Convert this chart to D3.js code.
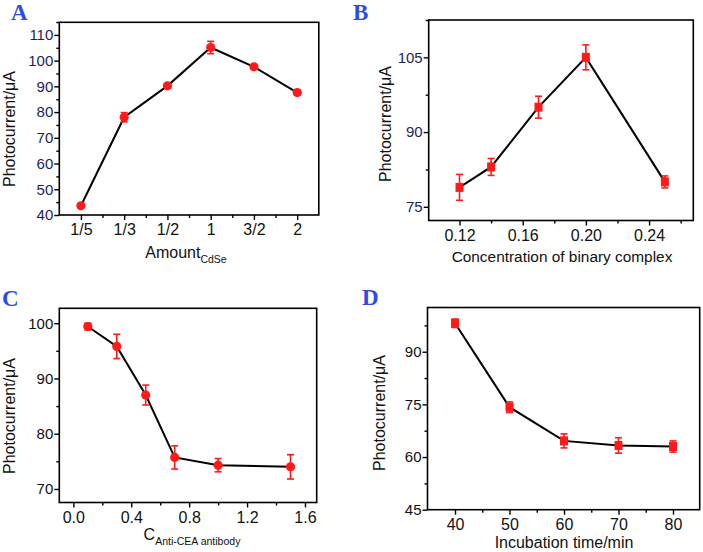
<!DOCTYPE html>
<html><head><meta charset="utf-8">
<script src="https://cdn.jsdelivr.net/npm/d3@7"></script>
<style>
body{margin:0;background:#fff;}
svg{display:block;font-family:"Liberation Sans",Arial,sans-serif;}
</style></head>
<body><svg id="c" width="703" height="552"></svg>
<script>
// Panel A
const aCats = ["1/5","1/3","1/2","1","3/2","2"];
const aVals = [43.6, 78.0, 90.2, 105.1, 97.6, 87.6];
const aErr  = [0.6, 1.8, 0.7, 2.4, 0.8, 0.9];
const aYTicks = [40,50,60,70,80,90,100,110];
// Panel B
const bX = [0.12, 0.14, 0.17, 0.20, 0.25];
const bVals = [78.9, 83.0, 95.0, 105.0, 80.0];
const bErr = [2.6, 1.7, 2.2, 2.5, 1.2];
const bXTicks = [0.12, 0.16, 0.20, 0.24];
const bYTicks = [75, 90, 105];
// Panel C
const cX = [0.1, 0.3, 0.5, 0.7, 1.0, 1.5];
const cVals = [99.4, 95.8, 87.0, 75.7, 74.3, 74.0];
const cErr = [0.6, 2.2, 1.8, 2.1, 1.2, 2.2];
const cXTicks = [0.0, 0.4, 0.8, 1.2, 1.6];
const cYTicks = [70, 80, 90, 100];
// Panel D
const dX = [40, 50, 60, 70, 80];
const dVals = [98.1, 74.2, 64.6, 63.3, 63.0];
const dErr = [1.2, 1.5, 2.0, 2.2, 1.6];
const dXTicks = [40, 50, 60, 70, 80];
const dYTicks = [45, 60, 75, 90];

const svg = d3.select("#c");
const RED = "#ff1a1a";

function panel(o){
  const g = svg.append("g");
  const x = o.x, y = o.y;
  const [x0,x1] = x.range(), [y1,y0] = y.range();
  // minor ticks
  g.append("g").attr("transform",`translate(0,${y1})`)
    .call(d3.axisBottom(x).tickValues(o.xMinor).tickSize(3).tickFormat(""))
    .call(a=>a.select(".domain").remove());
  g.append("g").attr("transform",`translate(${x0},0)`)
    .call(d3.axisLeft(y).tickValues(o.yMinor).tickSize(3).tickFormat(""))
    .call(a=>a.select(".domain").remove());
  // major
  const xa = g.append("g").attr("transform",`translate(0,${y1})`)
    .call(d3.axisBottom(x).tickValues(o.xTicks).tickSize(5).tickPadding(4).tickFormat(o.xFmt));
  xa.select(".domain").remove();
  xa.selectAll("text").attr("font-size",16).attr("fill","#111").attr("font-family","Liberation Sans, Arial");
  const ya = g.append("g").attr("transform",`translate(${x0},0)`)
    .call(d3.axisLeft(y).tickValues(o.yTicks).tickSize(5).tickPadding(1).tickFormat(d3.format("d")));
  ya.select(".domain").remove();
  ya.selectAll("text").attr("font-size",15).attr("fill",o.yColor).attr("font-family","Liberation Sans, Arial");
  g.selectAll(".tick line").attr("stroke","#000").attr("stroke-width",1.4);
  // frame
  g.append("rect").attr("x",x0).attr("y",y0).attr("width",x1-x0).attr("height",y1-y0)
    .attr("fill","none").attr("stroke","#000").attr("stroke-width",1.6);
  // line
  const pts = o.xs.map((v,i)=>[x(v), y(o.vals[i]), y(o.vals[i]-o.err[i]), y(o.vals[i]+o.err[i])]);
  g.append("path").attr("d",d3.line()(pts.map(p=>[p[0],p[1]])))
    .attr("fill","none").attr("stroke","#000").attr("stroke-width",2);
  // error bars
  const eb = g.append("g").attr("stroke",RED).attr("stroke-width",1.6);
  pts.forEach(p=>{
    eb.append("line").attr("x1",p[0]).attr("x2",p[0]).attr("y1",p[2]).attr("y2",p[3]);
    eb.append("line").attr("x1",p[0]-3.5).attr("x2",p[0]+3.5).attr("y1",p[2]).attr("y2",p[2]);
    eb.append("line").attr("x1",p[0]-3.5).attr("x2",p[0]+3.5).attr("y1",p[3]).attr("y2",p[3]);
  });
  // markers
  pts.forEach(p=>{
    if(o.shape==="circle") g.append("circle").attr("cx",p[0]).attr("cy",p[1]).attr("r",4.6).attr("fill",RED);
    else g.append("rect").attr("x",p[0]-4).attr("y",p[1]-4.5).attr("width",8).attr("height",9).attr("fill",RED);
  });
  // y title
  svg.append("text").attr("transform",`translate(${o.ytx},${o.yty}) rotate(-90)`)
    .attr("text-anchor","middle").attr("font-size",16).attr("fill","#111")
    .text("Photocurrent/μA");
  // x title
  const t = svg.append("text").attr("x",o.xtx).attr("y",o.xty).attr("text-anchor","middle")
    .attr("font-size",o.xtSize || 16).attr("fill","#111");
  t.append("tspan").text(o.xTitle);
  if(o.xSub) t.append("tspan").attr("font-size",10.5).attr("dy",5).text(o.xSub);
  // panel letter
  svg.append("text").attr("x",o.lx).attr("y",o.ly).attr("font-family","Liberation Serif, Times New Roman, serif")
    .attr("font-weight","bold").attr("font-size",23).attr("fill","#2f4be6").text(o.letter);
}

// A
const axIdx = aCats.map((c,i)=>i);
panel({
  x: d3.scaleLinear().domain([-0.5,5.5]).range([59.3,318.8]),
  y: d3.scaleLinear().domain([40,114.9]).range([215,22.3]),
  xs: axIdx, vals: aVals, err: aErr,
  xTicks: axIdx, xMinor: axIdx.slice(0,-1).map(i=>i+0.5), xFmt: i=>aCats[i],
  yTicks: aYTicks, yMinor: aYTicks.map(v=>v+5), yColor:"#1a1f5e",
  shape:"circle", ytx:15, yty:129, xtx:186, xty:258, xTitle:"Amount", xSub:"CdSe",
  letter:"A", lx:11, ly:20
});
// B
panel({
  x: d3.scaleLinear().domain([0.1005,0.268]).range([428.7,693.3]),
  y: d3.scaleLinear().domain([72.25,112.5]).range([220.5,20]),
  xs: bX, vals: bVals, err: bErr,
  xTicks: bXTicks, xMinor: [0.14,0.18,0.22,0.26], xFmt: d3.format(".2f"),
  yTicks: bYTicks, yMinor: [82.5,97.5,112.5], yColor:"#1a1f5e",
  shape:"square", ytx:391, yty:124, xtx:562, xty:262, xTitle:"Concentration of binary complex", xtSize:15.4,
  letter:"B", lx:353, ly:20
});
// C
panel({
  x: d3.scaleLinear().domain([-0.097,1.681]).range([59.3,316.7]),
  y: d3.scaleLinear().domain([67.55,102.7]).range([502.5,308.3]),
  xs: cX, vals: cVals, err: cErr,
  xTicks: cXTicks, xMinor: [0.2,0.6,1.0,1.4], xFmt: d3.format(".1f"),
  yTicks: cYTicks, yMinor: [75,85,95], yColor:"#111",
  shape:"circle", ytx:15, yty:416, xtx:192, xty:540, xTitle:"C", xSub:"Anti-CEA antibody",
  letter:"C", lx:2, ly:306
});
// D
panel({
  x: d3.scaleLinear().domain([34.95,84.9]).range([427.5,699.7]),
  y: d3.scaleLinear().domain([45,102.6]).range([509.7,307.5]),
  xs: dX, vals: dVals, err: dErr,
  xTicks: dXTicks, xMinor: [45,55,65,75], xFmt: d3.format("d"),
  yTicks: dYTicks, yMinor: [52.5,67.5,82.5,97.5], yColor:"#111",
  shape:"square", ytx:385, yty:413, xtx:564, xty:548, xTitle:"Incubation time/min",
  letter:"D", lx:362, ly:305
});
</script></body></html>
